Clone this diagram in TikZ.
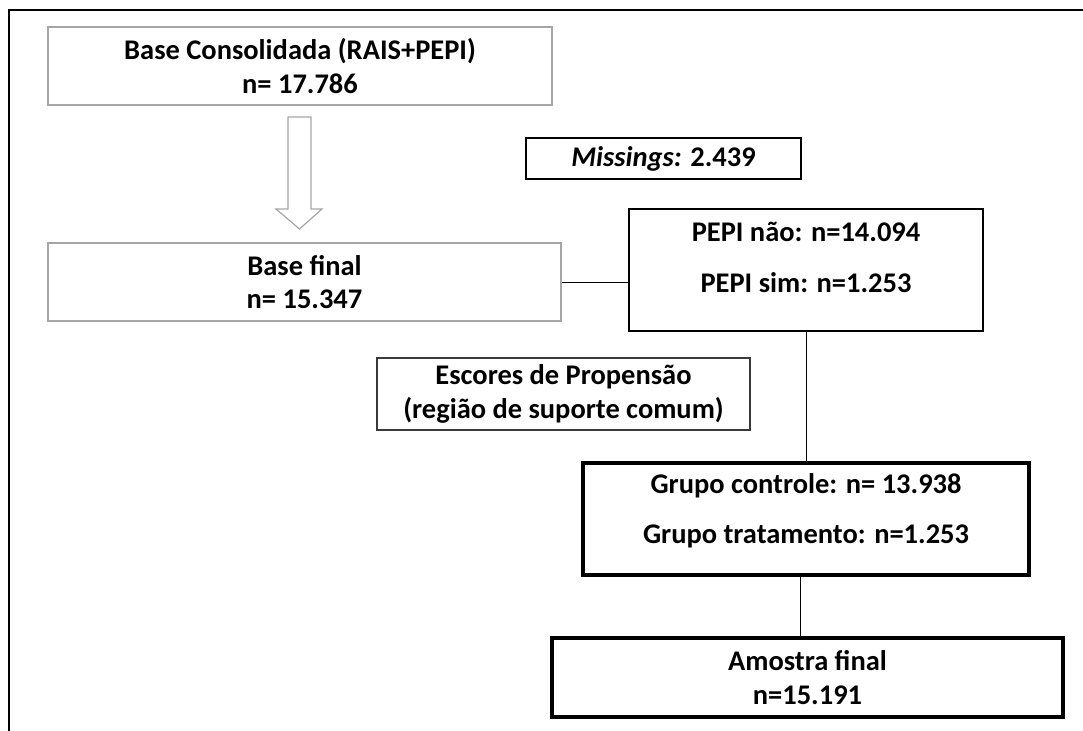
\documentclass[tikz,border=0pt]{standalone}
\usepackage{fontspec}
\setmainfont{Carlito}
\usepackage{tikz}
\usetikzlibrary{calc}

\begin{document}
\begin{tikzpicture}[
  txt/.style={font=\bfseries\fontsize{16.2}{19}\selectfont,align=center},
  lightbox/.style={draw=gray!70,line width=0.7pt,minimum height=1.56cm},
  darkbox/.style={draw=black,line width=1.1pt},
  heavybox/.style={draw=black,line width=2pt}
]
\useasboundingbox (0,0) rectangle (21.66,14.62);

% Frame (top and left only)
\draw[line width=1.6pt] (0.18,0) -- (0.18,14.42) -- (21.66,14.42);

% Left column
\node[lightbox,txt,minimum width=10.08cm] (consol) at (6.0,13.30)
  {Base Consolidada (RAIS+PEPI)\\n= 17.786};

% Hollow arrow down
\draw[gray!70,line width=0.7pt,fill=white]
  (5.76,12.28) -- (6.22,12.28) -- (6.22,10.44) -- (6.44,10.44)
  -- (5.99,10.04) -- (5.52,10.44) -- (5.76,10.44) -- cycle;

\node[lightbox,txt,minimum width=10.26cm] (final) at (6.09,8.98)
  {Base final\\n= 15.347};

% Missings
\node[darkbox,txt,minimum width=5.5cm,minimum height=0.82cm] (miss) at (13.27,11.45)
  {\textit{Missings:} 2.439};

% PEPI split
\node[darkbox,minimum width=7.08cm,minimum height=2.44cm] (pepi) at (16.12,9.22) {};
\node[txt] (pepinao) at ($(pepi.north)+(0,-0.47)$) {PEPI não: n=14.094};
\node[txt] (pepisim) at ($(pepi.north)+(0,-1.5)$) {PEPI sim: n=1.253};

% Propensity scores
\node[txt,draw=gray!45!black,line width=0.9pt,minimum width=7.46cm,minimum height=1.44cm]
  (escores) at (11.27,6.74) {Escores de Propensão\\(região de suporte comum)};

% Matched groups
\node[heavybox,minimum width=8.92cm,minimum height=2.24cm] (grupo) at (16.12,4.24) {};
\node[txt] (controle) at ($(grupo.north)+(0,-0.5)$) {Grupo controle: n= 13.938};
\node[txt] (tratamento) at ($(grupo.north)+(0,-1.5)$) {Grupo tratamento: n=1.253};

\node[heavybox,txt,minimum width=10.22cm,minimum height=1.58cm] (amostra) at (16.15,1.07)
  {Amostra final\\n=15.191};

% Connectors
\draw (final.east) -- (final.east -| pepi.west);
\draw (pepi.south) -- (grupo.north);
\coordinate (split) at ($(grupo.south)+(-0.12,0)$);
\draw (split) -- (split |- amostra.north);

\end{tikzpicture}
\end{document}
